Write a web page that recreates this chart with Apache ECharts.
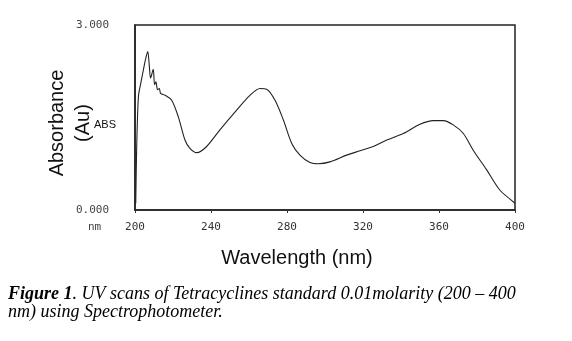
<!DOCTYPE html>
<html><head><meta charset="utf-8">
<script src="https://cdn.jsdelivr.net/npm/echarts@6/dist/echarts.min.js"></script>
<style>html,body{margin:0;padding:0;background:#fff}#c{width:572px;height:341px}</style>
</head><body><div id="c"></div>
<script>
const wavelengths = [200.4,200.9,201.8,203,204.4,205.6,206.7,207.5,208.2,209.6,210.3,211,211.9,212.8,213.5,215.8,219.3,222.8,226.3,228.9,232.5,237.7,244.7,253.5,260.5,265.8,269.3,273.7,278.1,282.5,286.8,292.1,296.5,302.6,311.4,318.4,325.4,332.5,341.2,350,357,362.3,367.5,372.8,378,385.1,392.1,400];
const absorbance  = [0.11,1.03,1.84,2.05,2.27,2.45,2.57,2.35,2.14,2.28,2.03,2.08,1.95,1.97,1.89,1.86,1.78,1.51,1.135,1.0,0.93,1.03,1.30,1.62,1.86,1.97,1.96,1.78,1.46,1.08,0.89,0.77,0.75,0.78,0.89,0.96,1.03,1.135,1.24,1.39,1.45,1.45,1.38,1.24,0.97,0.65,0.32,0.11];
const xTicks = [200,240,280,320,360,400];
const yTicks = [0,3];
const chart = echarts.init(document.getElementById('c'));
chart.setOption({
  animation:false,
  backgroundColor:'#fff',
  grid:{left:135,right:57,top:25,bottom:131,show:true,borderColor:'#222',borderWidth:1.5},
  xAxis:{type:'value',min:200,max:400,interval:40,
    axisLine:{lineStyle:{color:'#222',width:1.5}},
    axisTick:{show:true,length:3,lineStyle:{color:'#333'}},
    splitLine:{show:false},
    axisLabel:{color:'#333',fontFamily:'DejaVu Sans Mono',fontSize:11,margin:12,
      formatter:v=>xTicks.includes(v)?String(v):''}},
  yAxis:{type:'value',min:0,max:3,interval:3,
    axisLine:{show:true,lineStyle:{color:'#222',width:1.5}},
    axisTick:{show:false},splitLine:{show:false},
    axisLabel:{color:'#444',fontFamily:'DejaVu Sans Mono',fontSize:11,margin:26,
      formatter:v=>yTicks.includes(v)?v.toFixed(3):''}},
  series:[{type:'line',data:wavelengths.map((w,i)=>[w,absorbance[i]]),
    showSymbol:false,smooth:0.3,lineStyle:{color:'#222',width:1.1}}],
  graphic:[
    {type:'text',left:88,top:222,style:{text:'nm',font:'11px "DejaVu Sans Mono"',fill:'#444'}},
    {type:'text',x:57,y:123,rotation:Math.PI/2,style:{text:'Absorbance',font:'20px "Liberation Sans"',fill:'#111',align:'center',verticalAlign:'middle'}},
    {type:'text',x:83,y:123,rotation:Math.PI/2,style:{text:'(Au)',font:'20px "Liberation Sans"',fill:'#111',align:'center',verticalAlign:'middle'}},
    {type:'text',x:105,y:125,style:{text:'ABS',font:'11px "Liberation Sans Narrow", "Liberation Sans"',fill:'#111',align:'center',verticalAlign:'middle'}},
    {type:'text',x:297,y:258,style:{text:'Wavelength (nm)',font:'20px "Liberation Sans"',fill:'#111',align:'center',verticalAlign:'middle'}},
    {type:'text',left:8,top:285,style:{
      rich:{b:{font:'bold italic 18px "Liberation Serif"',fill:'#000',lineHeight:18},i:{font:'italic 18px "Liberation Serif"',fill:'#000',lineHeight:18}},
      text:'{b|Figure 1}{i|. UV scans of Tetracyclines standard 0.01molarity (200 – 400}\n{i|nm) using Spectrophotometer.}'}}
  ]
});
</script></body></html>
